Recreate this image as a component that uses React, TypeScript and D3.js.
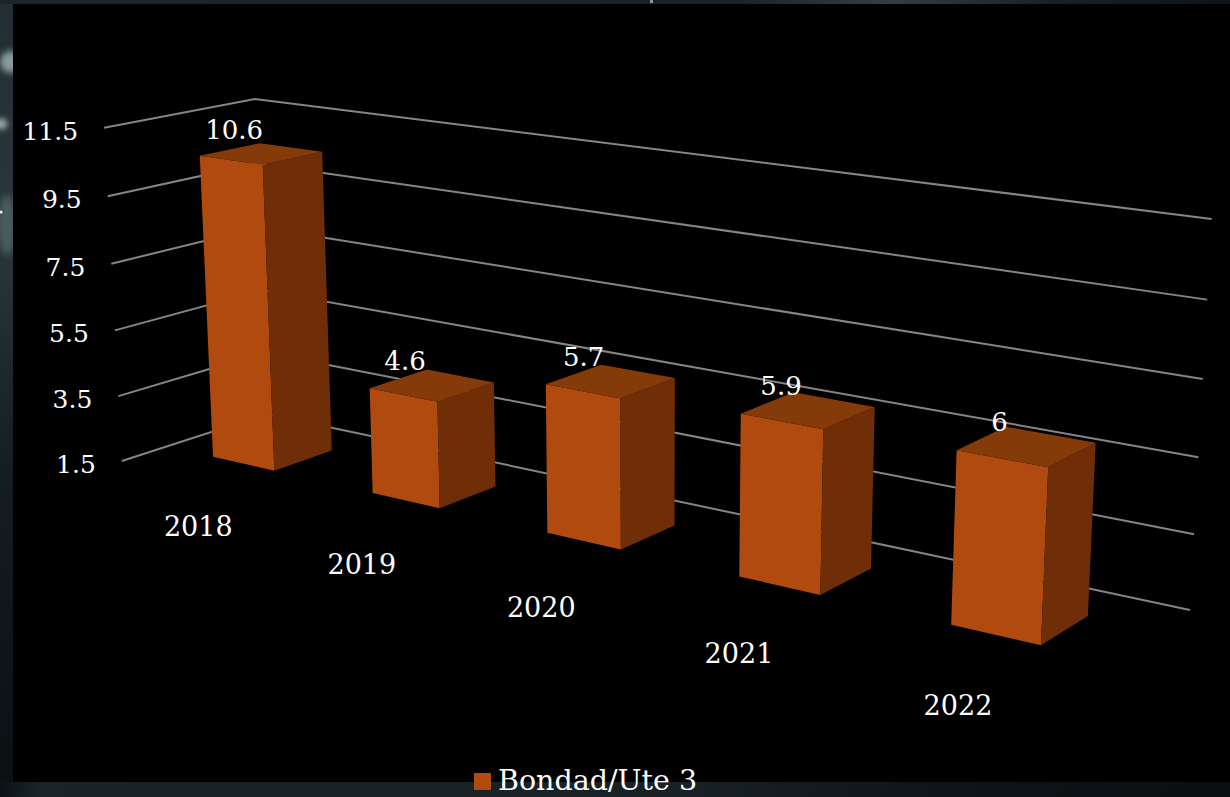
import React from "react";
import * as d3 from "d3";

// Chart data
const years = ["2018", "2019", "2020", "2021", "2022"];
const bondad = [10.6, 4.6, 5.7, 5.9, 6];
const valueTicks = [1.5, 3.5, 5.5, 7.5, 9.5, 11.5];
const seriesName = "Bondad/Ute 3";

const WIDTH = 1230;
const HEIGHT = 797;
const SERIF = "'DejaVu Serif', serif";
const FRONT = "#b14a0e";
const SIDE = "#6f2e07";
const TOP = "#853a0a";
const GRID = "#858585";

// Homogeneous 3x4 camera: model X runs along the categories, Y is height, Z is depth toward the viewer.
const camera = [
  [136.022, -19.944, -152.209, 267.029],
  [14.317, -318.045, 20.543, 413.968],
  [-0.040808, -0.030729, -0.057554, 1],
];

function project(X: number, Y: number, Z: number): [number, number] {
  const [a, b, c] = camera;
  const w = c[0] * X + c[1] * Y + c[2] * Z + c[3];
  return [
    (a[0] * X + a[1] * Y + a[2] * Z + a[3]) / w,
    (b[0] * X + b[1] * Y + b[2] * Z + b[3]) / w,
  ];
}

const barDepth = { back: 0.2971, front: 0.6988 };
const barWidth = 0.3946;

const xScale = d3.scaleBand<string>().domain(years).range([0, years.length]);
const yScale = d3.scaleLinear().domain([1.5, 11.5]).range([0, 1]);
const polygon = d3.line();

function closed(points: [number, number][]) {
  return polygon(points) + "Z";
}

function Bar({ year, value }: { year: string; value: number }) {
  const centre = xScale(year)! + xScale.bandwidth() / 2;
  const xl = centre - barWidth / 2;
  const xr = centre + barWidth / 2;
  const h = yScale(value);
  const { back, front } = barDepth;
  const labelAt = project(centre, h, (back + front) / 2);
  return (
    <g>
      <path d={closed([project(xl, 0, front), project(xr, 0, front), project(xr, h, front), project(xl, h, front)])} fill={FRONT} />
      <path d={closed([project(xr, 0, front), project(xr, 0, back), project(xr, h, back), project(xr, h, front)])} fill={SIDE} />
      <path d={closed([project(xl, h, front), project(xr, h, front), project(xr, h, back), project(xl, h, back)])} fill={TOP} />
      <text x={labelAt[0] - 27} y={labelAt[1] - 15} textAnchor="middle" fontSize={26} fill="#fff" fontFamily={SERIF}>
        {value}
      </text>
    </g>
  );
}

export default function App() {
  return (
    <svg width={WIDTH} height={HEIGHT} style={{ position: "absolute", left: 0, top: 0, display: "block" }}>
      <defs>
        <linearGradient id="backdrop" x1="0" y1="0" x2="0" y2="1">
          <stop offset="0" stopColor="#222e33" />
          <stop offset="0.3" stopColor="#2a373c" />
          <stop offset="0.6" stopColor="#141d21" />
          <stop offset="1" stopColor="#0a0f12" />
        </linearGradient>
        <linearGradient id="floorBand" x1="0" y1="0" x2="1" y2="0">
          <stop offset="0" stopColor="#0b1114" />
          <stop offset="0.03" stopColor="#192328" />
          <stop offset="0.55" stopColor="#182126" />
          <stop offset="0.8" stopColor="#0d1316" />
          <stop offset="1" stopColor="#0a0f12" />
        </linearGradient>
        <linearGradient id="topBand" x1="0" y1="0" x2="1" y2="0">
          <stop offset="0" stopColor="#1c262a" />
          <stop offset="0.6" stopColor="#1a2327" />
          <stop offset="0.72" stopColor="#343d41" />
          <stop offset="0.85" stopColor="#1a2226" />
          <stop offset="1" stopColor="#0e1417" />
        </linearGradient>
        <filter id="soft" x="-100%" y="-100%" width="300%" height="300%">
          <feGaussianBlur stdDeviation="3" />
        </filter>
      </defs>

      {/* Photographic backdrop behind the panel */}
      <rect width={WIDTH} height={HEIGHT} fill="url(#backdrop)" />
      <rect x={0} y={782} width={WIDTH} height={15} fill="url(#floorBand)" />
      <rect x={0} y={0} width={WIDTH} height={4} fill="url(#topBand)" />
      <g filter="url(#soft)">
        <ellipse cx={11} cy={62} rx={11} ry={11} fill="#8b9a9c" />
        <ellipse cx={1} cy={124} rx={6} ry={5} fill="#b4bfc0" />
        <ellipse cx={7} cy={225} rx={9} ry={30} fill="#4c5a5f" />
      </g>
      <circle cx={1} cy={212} r={1.6} fill="#e8eeee" />
      <rect x={650} y={0} width={3} height={3} fill="#8d979b" />

      {/* Chart panel */}
      <rect x={13} y={4} width={WIDTH - 13} height={778} fill="#000" />

      {/* Gridlines on the side and back walls */}
      {valueTicks.map((t) => {
        const h = yScale(t);
        const left = project(0, h, 1);
        return (
          <g key={t}>
            <path
              d={polygon([left, project(0, h, 0), project(years.length, h, 0)])!}
              fill="none"
              stroke={GRID}
              strokeWidth={2}
            />
            <text x={left[0] - 26} y={left[1] + 12} textAnchor="end" fontSize={25} fill="#fff" fontFamily={SERIF}>
              {t}
            </text>
          </g>
        );
      })}

      {years.map((y, i) => (
        <Bar key={y} year={y} value={bondad[i]} />
      ))}

      {/* Category labels along the front of the floor */}
      {years.map((y) => {
        const at = project(xScale(y)! + xScale.bandwidth() / 2, 0, 1);
        return (
          <text key={y} x={at[0]} y={at[1] + 57} textAnchor="middle" fontSize={27} fill="#fff" fontFamily={SERIF}>
            {y}
          </text>
        );
      })}

      {/* Legend */}
      <rect x={474} y={773} width={17} height={17} fill={FRONT} />
      <text x={498} y={790} fontSize={28.5} fill="#fff" fontFamily={SERIF}>
        {seriesName}
      </text>
    </svg>
  );
}
